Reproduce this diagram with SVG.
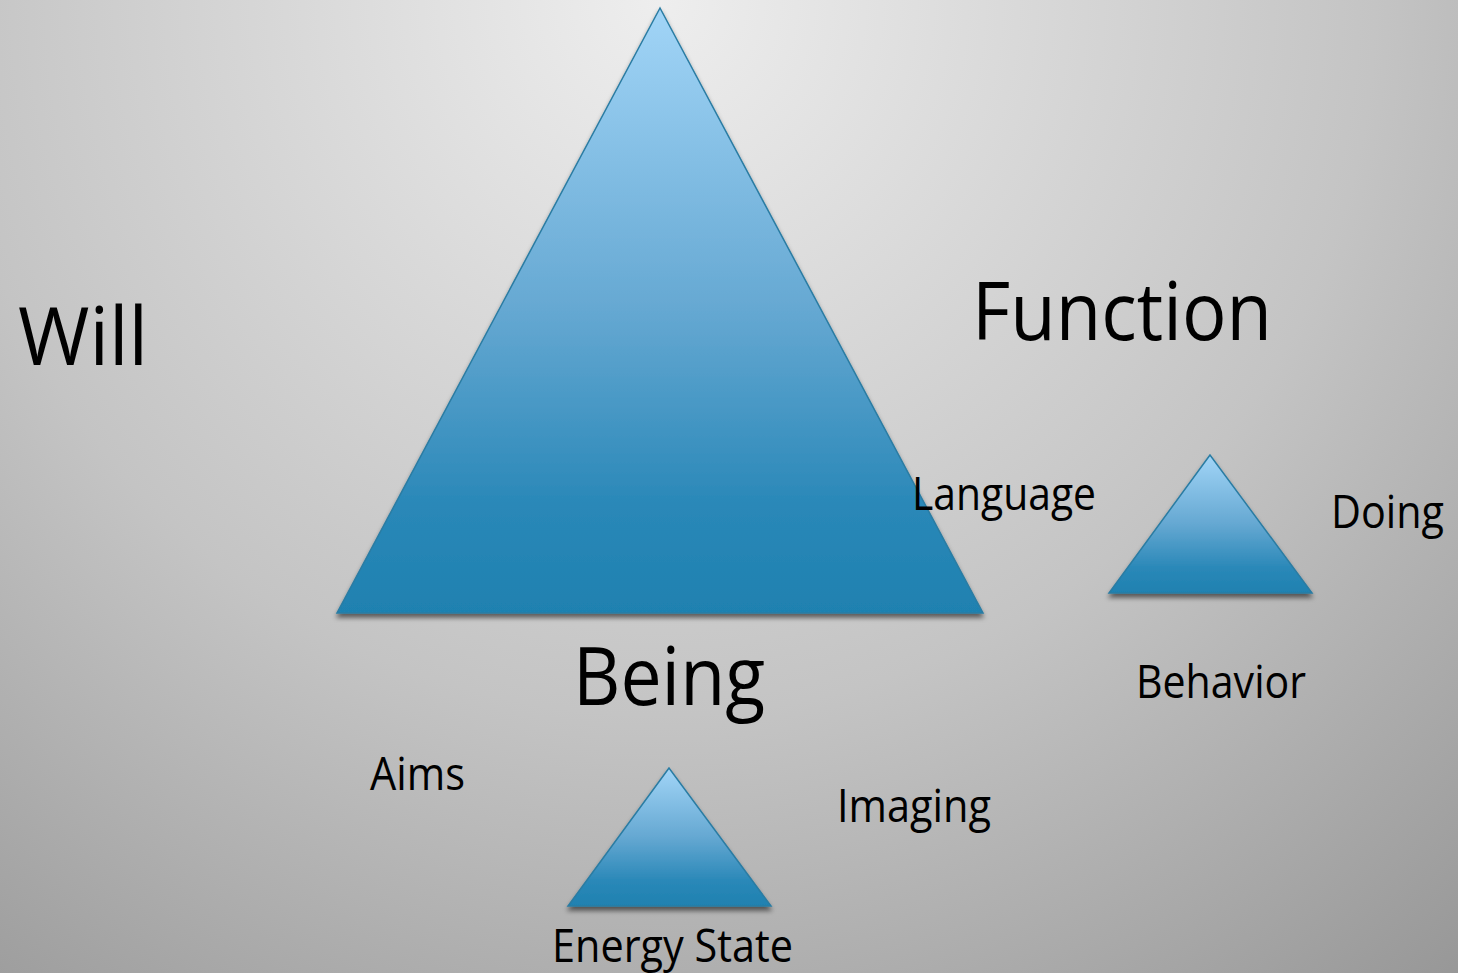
<svg xmlns="http://www.w3.org/2000/svg" width="1458" height="973" viewBox="0 0 1458 973">
<defs>
<radialGradient id="bg" cx="660" cy="0" r="1300" gradientUnits="userSpaceOnUse">
<stop offset="0" stop-color="#eeeeee"/>
<stop offset="0.55" stop-color="#c4c4c4"/>
<stop offset="1" stop-color="#949494"/>
</radialGradient>
<linearGradient id="tri" x1="0" y1="0" x2="0" y2="1">
<stop offset="0" stop-color="#a2d5f7"/>
<stop offset="0.5" stop-color="#65a8d2"/>
<stop offset="0.82" stop-color="#2a88b8"/>
<stop offset="1" stop-color="#1f81b0"/>
</linearGradient>
<filter id="sh" x="-10%" y="-10%" width="120%" height="125%">
<feGaussianBlur in="SourceAlpha" stdDeviation="2.5"/>
<feOffset dx="0" dy="4" result="b"/>
<feComponentTransfer><feFuncA type="linear" slope="0.55"/></feComponentTransfer>
<feMerge><feMergeNode/><feMergeNode in="SourceGraphic"/></feMerge>
</filter>
</defs>
<style>
.t{fill:url(#tri);stroke:#2a7ca3;stroke-width:1.5;stroke-linejoin:miter;filter:url(#sh)}
text{font-family:"Open Sans","Noto Sans","DejaVu Sans",sans-serif;fill:#000}
.big{font-size:81px}
.sm{font-size:45px}
</style>
<rect width="1458" height="973" fill="url(#bg)"/>
<g id="connectors"/>
<g id="tri-being"><polygon class="t" points="660,8 337,613 983,613"/></g>
<g id="tri-behavior"><polygon class="t" points="1210,455 1109,593 1312,593"/></g>
<g id="tri-energy"><polygon class="t" points="669,768 568,906 771,906"/></g>
<g id="lbl-will"><text class="big" x="18" y="365" textLength="130" lengthAdjust="spacingAndGlyphs">Will</text></g>
<g id="lbl-function"><text class="big" x="972" y="340" textLength="300" lengthAdjust="spacingAndGlyphs">Function</text></g>
<g id="lbl-being"><text class="big" x="573" y="705" textLength="192" lengthAdjust="spacingAndGlyphs">Being</text></g>
<g id="lbl-language"><text class="sm" x="912" y="510" textLength="184" lengthAdjust="spacingAndGlyphs">Language</text></g>
<g id="lbl-doing"><text class="sm" x="1331" y="528" textLength="113" lengthAdjust="spacingAndGlyphs">Doing</text></g>
<g id="lbl-behavior"><text class="sm" x="1136" y="698" textLength="170" lengthAdjust="spacingAndGlyphs">Behavior</text></g>
<g id="lbl-aims"><text class="sm" x="370" y="790" textLength="95" lengthAdjust="spacingAndGlyphs">Aims</text></g>
<g id="lbl-imaging"><text class="sm" x="837" y="822" textLength="154" lengthAdjust="spacingAndGlyphs">Imaging</text></g>
<g id="lbl-energy"><text class="sm" x="552" y="962" textLength="241" lengthAdjust="spacingAndGlyphs">Energy State</text></g>
</svg>
